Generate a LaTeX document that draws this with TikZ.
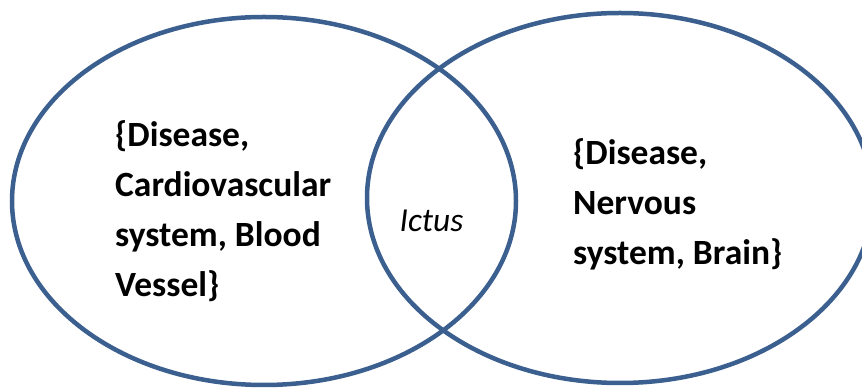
\documentclass[tikz,border=0pt]{standalone}
\usepackage{fontspec}
\setmainfont{Carlito}
\usepackage{tikz}
\usetikzlibrary{shapes.geometric}
\definecolor{VennLine}{HTML}{3B5F8E}

\begin{document}
\begin{tikzpicture}[x=1pt,y=1pt,
  set/.style={draw=VennLine, line width=4.5pt, ellipse, inner sep=0pt},
  members/.style={font=\fontsize{35.5}{50}\selectfont\bfseries, align=left,
    anchor=north west, inner sep=0pt}]
  \useasboundingbox (0,0) rectangle (862,388);
  \node[set, minimum width=504pt, minimum height=368pt] (L) at (264,187) {};
  \node[set, minimum width=506pt, minimum height=370pt] (R) at (620,190) {};
  \node[members] (Lset) at (115,268)
    {\{Disease,\\Cardiovascular\\system, Blood\\Vessel\}};
  \node[members] (Rset) at (573,250)
    {\{Disease,\\Nervous\\system, Brain\}};
  \node[font=\fontsize{33.5}{40}\selectfont\itshape, anchor=base, inner sep=0pt]
    (common) at (431.5,156) {Ictus};
\end{tikzpicture}
\end{document}
